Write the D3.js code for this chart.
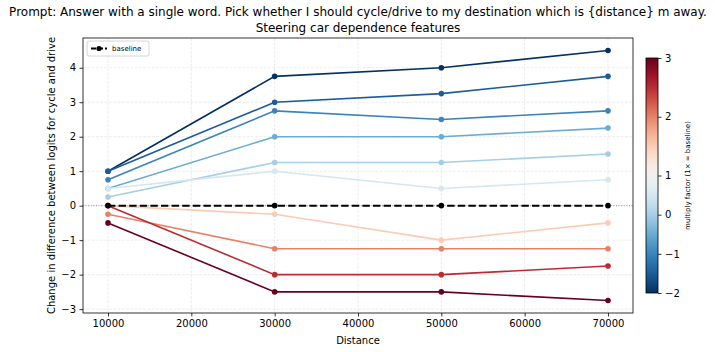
<!DOCTYPE html>
<html>
<head>
<meta charset="utf-8">
<script src="https://cdn.jsdelivr.net/npm/d3@7"></script>
<style>
  body { margin: 0; background: #fff; }
  svg { font-family: "DejaVu Sans", sans-serif; }
</style>
</head>
<body>
<div id="chart"></div>
<script>
// data
const distances = [10000, 30000, 50000, 70000];
const factors = [-2, -1.5, -1, -0.5, 0, 0.5, 1.5, 2, 2.5, 3];
const seriesValues = [
    [1.0, 3.75, 4.0, 4.5],
    [1.0, 3.0, 3.25, 3.75],
    [0.75, 2.75, 2.5, 2.75],
    [0.5, 2.0, 2.0, 2.25],
    [0.25, 1.25, 1.25, 1.5],
    [0.5, 1.0, 0.5, 0.75],
    [0.0, -0.25, -1.0, -0.5],
    [-0.25, -1.25, -1.25, -1.25],
    [0.0, -2.0, -2.0, -1.75],
    [-0.5, -2.5, -2.5, -2.75]
];
const baselineValues = [0, 0, 0, 0];
const xTicks = [10000, 20000, 30000, 40000, 50000, 60000, 70000];
const yTicks = [-3, -2, -1, 0, 1, 2, 3, 4];
const cbarTicks = [-2, -1, 0, 1, 2, 3];

const width = 715, height = 352;
const margin = {top: 38, right: 82, bottom: 39, left: 83};

const svg = d3.select('#chart').append('svg')
    .attr('width', width)
    .attr('height', height);

const x = d3.scaleLinear().domain([7000, 73000]).range([margin.left, width - margin.right]);
const y = d3.scaleLinear().domain([-3.1125, 4.8625]).range([height - margin.bottom, margin.top]);

// TwoSlopeNorm(vmin=-2, vcenter=1, vmax=3) + RdBu_r
const norm = d3.scaleLinear().domain([-2, 1, 3]).range([0, 0.5, 1]);
const colorOf = f => d3.interpolateRdBu(1 - norm(f));

const fmt = v => (v < 0 ? '\u2212' + Math.abs(v) : String(v));

// grid
const grid = svg.append('g');
grid.selectAll('line.gx').data(xTicks).enter().append('line')
    .attr('x1', d => x(d)).attr('x2', d => x(d))
    .attr('y1', margin.top).attr('y2', height - margin.bottom)
    .attr('stroke', '#b0b0b0').attr('stroke-opacity', 0.3)
    .attr('stroke-width', 0.8).attr('stroke-dasharray', '3,1.3');
grid.selectAll('line.gy').data(yTicks).enter().append('line')
    .attr('x1', margin.left).attr('x2', width - margin.right)
    .attr('y1', d => y(d)).attr('y2', d => y(d))
    .attr('stroke', '#b0b0b0').attr('stroke-opacity', 0.3)
    .attr('stroke-width', 0.8).attr('stroke-dasharray', '3,1.3');

// zero line
svg.append('line')
    .attr('x1', margin.left).attr('x2', width - margin.right)
    .attr('y1', y(0)).attr('y2', y(0))
    .attr('stroke', 'gray').attr('stroke-width', 0.8)
    .attr('stroke-dasharray', '1,1.6');

const line = d3.line().x((d, i) => x(distances[i])).y(d => y(d));

seriesValues.forEach((vals, k) => {
    const c = colorOf(factors[k]);
    svg.append('path').datum(vals)
        .attr('d', line).attr('fill', 'none')
        .attr('stroke', c).attr('stroke-width', 1.6);
    svg.selectAll(null).data(vals).enter().append('circle')
        .attr('cx', (d, i) => x(distances[i])).attr('cy', d => y(d))
        .attr('r', 2.8).attr('fill', c);
});

// baseline
svg.append('path').datum(baselineValues)
    .attr('d', line).attr('fill', 'none')
    .attr('stroke', 'black').attr('stroke-width', 2)
    .attr('stroke-dasharray', '7.4,3.2');
svg.selectAll(null).data(baselineValues).enter().append('circle')
    .attr('cx', (d, i) => x(distances[i])).attr('cy', d => y(d))
    .attr('r', 2.8).attr('fill', 'black');

// axes
const xAxis = svg.append('g')
    .attr('transform', `translate(0,${height - margin.bottom})`)
    .call(d3.axisBottom(x).tickValues(xTicks).tickFormat(d => d).tickSizeOuter(0).tickSize(3.5).tickPadding(3.5));
const yAxis = svg.append('g')
    .attr('transform', `translate(${margin.left},0)`)
    .call(d3.axisLeft(y).tickValues(yTicks).tickFormat(fmt).tickSizeOuter(0).tickSize(3.5).tickPadding(3.5));
[xAxis, yAxis].forEach(a => {
    a.select('.domain').remove();
    a.selectAll('text').attr('font-size', 10).attr('fill', '#000')
        .attr('font-family', '"DejaVu Sans", sans-serif');
    a.selectAll('line').attr('stroke', '#000').attr('stroke-width', 0.8);
});

// frame
svg.append('rect')
    .attr('x', margin.left).attr('y', margin.top)
    .attr('width', width - margin.right - margin.left)
    .attr('height', height - margin.bottom - margin.top)
    .attr('fill', 'none').attr('stroke', '#000').attr('stroke-width', 0.8);

// titles
svg.append('text').attr('x', 358).attr('y', 16).attr('text-anchor', 'middle')
    .attr('font-size', 12)
    .text('Prompt: Answer with a single word. Pick whether I should cycle/drive to my destination which is {distance} m away.');
svg.append('text').attr('x', (margin.left + width - margin.right) / 2).attr('y', 32)
    .attr('text-anchor', 'middle').attr('font-size', 12)
    .text('Steering car dependence features');

svg.append('text').attr('x', (margin.left + width - margin.right) / 2).attr('y', 344)
    .attr('text-anchor', 'middle').attr('font-size', 10).text('Distance');
svg.append('text')
    .attr('transform', `translate(55,${(margin.top + height - margin.bottom) / 2}) rotate(-90)`)
    .attr('text-anchor', 'middle').attr('font-size', 10)
    .text('Change in difference between logits for cycle and drive');

// legend
const lg = svg.append('g').attr('transform', 'translate(87,41)');
lg.append('rect').attr('width', 62).attr('height', 15).attr('rx', 2)
    .attr('fill', '#fff').attr('fill-opacity', 0.8)
    .attr('stroke', '#ccc').attr('stroke-width', 0.8);
lg.append('line').attr('x1', 4).attr('x2', 20).attr('y1', 7.5).attr('y2', 7.5)
    .attr('stroke', 'black').attr('stroke-width', 2).attr('stroke-dasharray', '5,2');
lg.append('circle').attr('cx', 12).attr('cy', 7.5).attr('r', 2.6).attr('fill', 'black');
lg.append('text').attr('x', 25).attr('y', 10.3).attr('font-size', 7).text('baseline');

// colorbar
const cb = {x: 646, w: 12, top: 58, bottom: 293};
const cy = d3.scaleLinear().domain([-2, 1, 3]).range([cb.bottom, (cb.top + cb.bottom) / 2, cb.top]);
const defs = svg.append('defs');
const grad = defs.append('linearGradient').attr('id', 'cbgrad')
    .attr('x1', 0).attr('y1', 1).attr('x2', 0).attr('y2', 0);
d3.range(0, 1.0001, 0.02).forEach(t => {
    grad.append('stop').attr('offset', t).attr('stop-color', d3.interpolateRdBu(1 - t));
});
svg.append('rect').attr('x', cb.x).attr('y', cb.top)
    .attr('width', cb.w).attr('height', cb.bottom - cb.top)
    .attr('fill', 'url(#cbgrad)');
svg.append('rect').attr('x', cb.x).attr('y', cb.top)
    .attr('width', cb.w).attr('height', cb.bottom - cb.top)
    .attr('fill', 'none').attr('stroke', '#000').attr('stroke-width', 0.8);
const cAxis = svg.append('g').attr('transform', `translate(${cb.x + cb.w},0)`)
    .call(d3.axisRight(cy).tickValues(cbarTicks).tickFormat(fmt).tickSize(3.5).tickPadding(3.5));
cAxis.select('.domain').remove();
cAxis.selectAll('text').attr('font-size', 10).attr('fill', '#000')
    .attr('font-family', '"DejaVu Sans", sans-serif');
cAxis.selectAll('line').attr('stroke', '#000').attr('stroke-width', 0.8);
svg.append('text')
    .attr('transform', `translate(690,${(cb.top + cb.bottom) / 2}) rotate(-90)`)
    .attr('text-anchor', 'middle').attr('font-size', 7)
    .text('multiply factor  (1\u00d7 = baseline)');
</script>
</body>
</html>
